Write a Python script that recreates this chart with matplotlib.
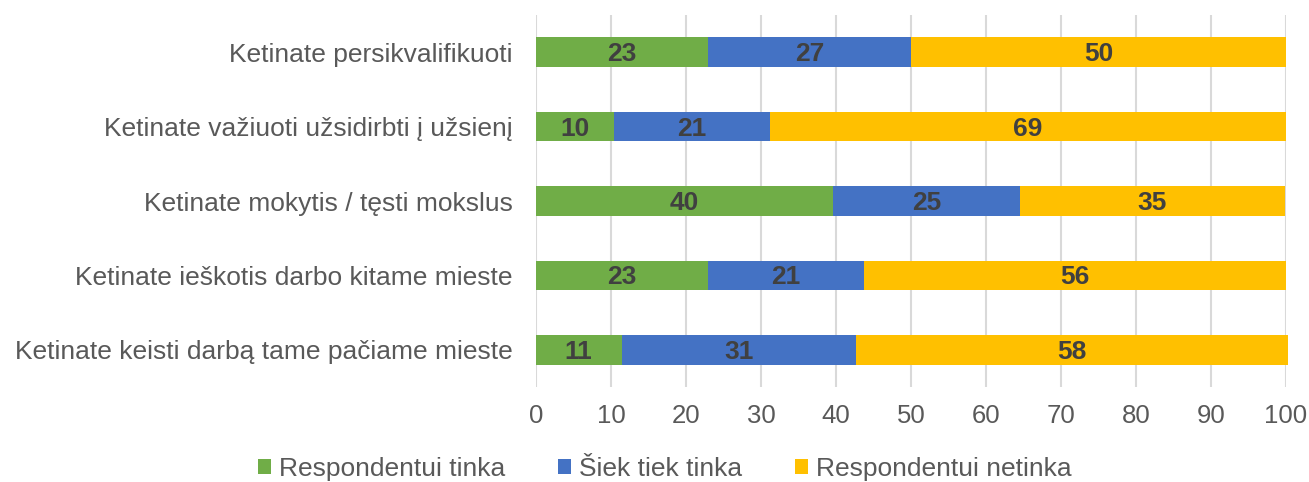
import matplotlib
matplotlib.use("Agg")
import matplotlib.pyplot as plt
import numpy as np

categories = [
    "Ketinate persikvalifikuoti",
    "Ketinate važiuoti užsidirbti į užsienį",
    "Ketinate mokytis / tęsti mokslus",
    "Ketinate ieškotis darbo kitame mieste",
    "Ketinate keisti darbą tame pačiame mieste",
]
series_names = ["Respondentui tinka", "Šiek tiek tinka", "Respondentui netinka"]
tinka = [22.9, 10.4, 39.6, 22.9, 11.4]
siek_tiek = [27.1, 20.8, 24.9, 20.8, 31.3]
netinka = [50.0, 68.8, 35.4, 56.3, 57.6]
xticks = [0, 10, 20, 30, 40, 50, 60, 70, 80, 90, 100]

colors = ["#70AD47", "#4472C4", "#FFC000"]

plt.rcParams['font.family'] = ['Liberation Sans', 'DejaVu Sans']

fig = plt.figure(figsize=(13.09, 4.82), dpi=100)
ax = fig.add_axes([536/1309, (482-387)/482, 750/1309, 372/482])

y = np.arange(len(categories))
left = np.zeros(len(categories))
for vals, name, c in zip([tinka, siek_tiek, netinka], series_names, colors):
    bars = ax.barh(y, vals, left=left, height=0.4, color=c, label=name, clip_on=False, zorder=3)
    for rect, v in zip(bars, vals):
        cx = rect.get_x() + rect.get_width() / 2
        cy = rect.get_y() + rect.get_height() / 2
        ax.annotate(f"{v:.0f}", (cx, cy), xytext=(0, -1.5), textcoords='offset points',
                    ha='center', va='center', fontsize=19, fontweight='bold',
                    color='#404040', zorder=4)
    left = left + np.array(vals)

ax.set_xlim(0, 100)
ax.set_ylim(len(categories) - 0.5, -0.5)
ax.set_yticks(y)
ax.set_yticklabels(categories)
ax.set_xticks(xticks)
ax.set_xticklabels([str(t) for t in xticks])
ax.tick_params(axis='y', length=0, pad=17, labelsize=19, labelcolor='#595959')
ax.tick_params(axis='x', length=0, pad=12, labelsize=18.5, labelcolor='#595959')
ax.grid(axis='x', color='#D9D9D9', linewidth=1.5, zorder=0)
ax.set_axisbelow(True)
for s in ax.spines.values():
    s.set_visible(False)

handles, labels = ax.get_legend_handles_labels()
fig.legend(handles, labels, loc='center', bbox_to_anchor=(0.508, 1 - 469/482), ncol=3,
           frameon=False, fontsize=19, handlelength=0.5, handleheight=0.5,
           handletextpad=0.3, columnspacing=2.0, labelcolor='#595959')

fig.savefig("out.png", dpi=100)
